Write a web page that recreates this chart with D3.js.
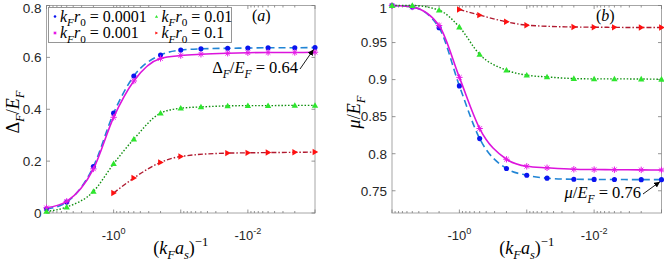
<!DOCTYPE html>
<html>
<head>
<meta charset="utf-8">
<script src="https://cdn.jsdelivr.net/npm/d3@7"></script>
<style>
  body { margin: 0; background: #fff; }
  svg { display: block; }
</style>
</head>
<body>
<svg width="664" height="263"></svg>
<script>
// x values: (k_F a_s)^-1
const xVals = [-10, -5, -2, -1, -0.5, -0.2, -0.1, -0.05, -0.02, -0.01, -0.005, -0.002, -0.001];
const xValsRed = [-1, -0.5, -0.2, -0.1, -0.02, -0.01, -0.005, -0.002, -0.001];

// panel (a): Delta_F / E_F
const gapR0001 = [0.015, 0.042, 0.179, 0.385, 0.528, 0.609, 0.628, 0.633, 0.635, 0.636, 0.637, 0.637, 0.638];
const gapR001 = [0.02, 0.045, 0.17, 0.369, 0.509, 0.596, 0.607, 0.612, 0.616, 0.618, 0.619, 0.619, 0.62];
const gapR01 = [0.006, 0.023, 0.083, 0.19, 0.285, 0.385, 0.404, 0.409, 0.413, 0.414, 0.414, 0.415, 0.415];
const gapR1 = [0.077, 0.135, 0.195, 0.218, 0.231, 0.232, 0.233, 0.234, 0.235];

// panel (b): mu / E_F
const muR0001 = [1.0, 0.998, 0.970, 0.8915, 0.8204, 0.780, 0.771, 0.767, 0.7655, 0.7653, 0.7652, 0.765, 0.765];
const muR001 = [1.0, 0.998, 0.973, 0.903, 0.834, 0.7925, 0.783, 0.781, 0.779, 0.7786, 0.7784, 0.7782, 0.778];
const muR01 = [1.0, 1.0, 0.9937, 0.971, 0.934, 0.9127, 0.906, 0.9036, 0.9014, 0.901, 0.901, 0.9008, 0.9005];
const muR1 = [0.9946, 0.987, 0.978, 0.9734, 0.971, 0.9707, 0.9705, 0.9703, 0.9703];

const legendLabels = ['0.0001', '0.001', '0.01', '0.1'];
const gapTicks = [0, 0.2, 0.4, 0.6, 0.8];
const muTicks = [0.75, 0.8, 0.85, 0.9, 0.95, 1];
const xLabelTicks = [1, 0.01];

const svg = d3.select('svg');
svg.append('rect').attr('width', 664).attr('height', 263).attr('fill', '#fff');

const serif = '"Liberation Serif", "DejaVu Serif", serif';
const sans = '"Liberation Sans", Arial, sans-serif';

// series styles
const styles = [
	{ line: '#2185d5', dash: '7,4', width: 1.6, marker: 'dot', mcolor: '#0a14f0' },
	{ line: '#dc14dc', dash: null, width: 1.6, marker: 'star', mcolor: '#e619e6' },
	{ line: '#0f8f0f', dash: '1.5,1.8', width: 1.4, marker: 'tri', mcolor: '#2ee62e' },
	{ line: '#b01a30', dash: '5,2,1.5,2', width: 1.4, marker: 'right', mcolor: '#ff1010' }
];

svg.append('defs').append('marker')
	.attr('id', 'arrowHead')
	.attr('orient', 'auto')
	.attr('markerWidth', 8).attr('markerHeight', 8)
	.attr('refX', 6).attr('refY', 3)
	.attr('markerUnits', 'userSpaceOnUse')
	.append('path').attr('d', 'M0,0 L6,3 L0,6 Z').attr('fill', '#000');

// writes math-like text; parts: [text, kind] kind: r roman, i italic, sub, isub, sup
function mathText(g, parts, size) {
	let shift = 0;
	parts.forEach((p) => {
		const t = g.append('tspan').text(p[0]);
		let target = 0;
		let fs = size;
		let italic = false;
		if (p[1] === 'i') italic = true;
		if (p[1] === 'sub' || p[1] === 'isub') { target = size * 0.3; fs = size * 0.7; italic = p[1] === 'isub'; }
		if (p[1] === 'sup' || p[1] === 'isup') { target = -size * 0.42; fs = size * 0.7; italic = p[1] === 'isup'; }
		t.attr('dy', target - shift).attr('font-size', fs).attr('font-style', italic ? 'italic' : 'normal');
		shift = target;
	});
}

function drawMarker(g, kind, color, size) {
	if (kind === 'dot') {
		g.append('circle').attr('r', size * 0.8).attr('fill', color);
	} else if (kind === 'star') {
		const s = size;
		g.append('path')
			.attr('d', `M${-s},0 H${s} M0,${-s} V${s} M${-s * 0.7},${-s * 0.7} L${s * 0.7},${s * 0.7} M${-s * 0.7},${s * 0.7} L${s * 0.7},${-s * 0.7}`)
			.attr('stroke', color).attr('stroke-width', 1).attr('fill', 'none');
	} else if (kind === 'tri') {
		const s = size;
		g.append('path').attr('d', `M0,${-s} L${s},${s * 0.75} L${-s},${s * 0.75} Z`).attr('fill', color);
	} else {
		const s = size;
		g.append('path').attr('d', `M${s},0 L${-s * 0.75},${-s} L${-s * 0.75},${s} Z`).attr('fill', color);
	}
}

function panel(opts) {
	const x = d3.scaleLog().domain([10, 0.001]).range([opts.x0, opts.x1]);
	const y = d3.scaleLinear().domain(opts.ydom).range([213, 5.5]);
	const g = svg.append('g');

	// frame
	g.append('rect')
		.attr('x', opts.x0).attr('y', 5.5)
		.attr('width', opts.x1 - opts.x0).attr('height', 213 - 5.5)
		.attr('fill', 'none').attr('stroke', '#a6a6a6').attr('stroke-width', 1);

	// x ticks (log minor + major), inside, top and bottom
	x.ticks().forEach((t) => {
		const major = Math.abs(Math.log10(t) - Math.round(Math.log10(t))) < 1e-9;
		const len = major ? 3.5 : 2;
		const px = x(t);
		g.append('line').attr('x1', px).attr('x2', px).attr('y1', 213).attr('y2', 213 - len)
			.attr('stroke', '#7a7a7a').attr('stroke-width', 0.8);
		g.append('line').attr('x1', px).attr('x2', px).attr('y1', 5.5).attr('y2', 5.5 + len)
			.attr('stroke', '#7a7a7a').attr('stroke-width', 0.8);
	});
	xLabelTicks.forEach((t) => {
		const txt = g.append('text')
			.attr('x', x(t)).attr('y', 239.5)
			.attr('text-anchor', 'middle')
			.attr('font-family', sans).attr('font-size', 13).attr('fill', '#262626');
		mathText(txt, [['-10', 'r'], [String(Math.round(Math.log10(t))), 'sup']], 13);
	});

	// y ticks
	opts.yticks.forEach((t) => {
		const py = y(t);
		g.append('line').attr('x1', opts.x0).attr('x2', opts.x0 + 3.5).attr('y1', py).attr('y2', py)
			.attr('stroke', '#7a7a7a').attr('stroke-width', 0.8);
		g.append('line').attr('x1', opts.x1).attr('x2', opts.x1 - 3.5).attr('y1', py).attr('y2', py)
			.attr('stroke', '#7a7a7a').attr('stroke-width', 0.8);
		g.append('text')
			.attr('x', opts.x0 - 5).attr('y', Math.max(py + 4.8, 12.6))
			.attr('text-anchor', 'end')
			.attr('font-family', sans).attr('font-size', 13.5).attr('fill', '#262626')
			.text(opts.fmt(t));
	});

	// series
	const line = d3.line().x((d) => x(-d[0])).y((d) => y(d[1])).curve(d3.curveMonotoneX);
	opts.series.forEach((s, i) => {
		const st = styles[i];
		const pts = s.xs.map((v, j) => [v, s.ys[j]]);
		g.append('path')
			.attr('d', line(pts))
			.attr('fill', 'none')
			.attr('stroke', st.line)
			.attr('stroke-width', st.width)
			.attr('stroke-dasharray', st.dash);
		pts.forEach((p) => {
			const m = g.append('g').attr('transform', `translate(${x(-p[0])},${y(p[1])})`);
			drawMarker(m, st.marker, st.mcolor, 3.2);
		});
	});

	// panel tag
	const tag = g.append('text')
		.attr('x', opts.tagX).attr('y', 21)
		.attr('font-family', serif).attr('font-size', 16).attr('fill', '#000');
	mathText(tag, [['(', 'r'], [opts.tag, 'i'], [')', 'r']], 16);

	// x label
	const xl = g.append('text')
		.attr('x', (opts.x0 + opts.x1) / 2).attr('y', 254)
		.attr('text-anchor', 'middle')
		.attr('font-family', serif).attr('font-size', 18).attr('fill', '#000');
	mathText(xl, [['(', 'r'], ['k', 'i'], ['F', 'isub'], ['a', 'i'], ['s', 'isub'], [')', 'r'], ['−1', 'sup']], 18);

	// y label
	const yl = g.append('text')
		.attr('transform', `translate(${opts.ylabX},112) rotate(-90)`)
		.attr('text-anchor', 'middle')
		.attr('font-family', serif).attr('font-size', 18).attr('fill', '#000');
	mathText(yl, opts.ylab, 18);

	// annotation
	const an = opts.annot;
	const at = g.append('text')
		.attr('x', an.tx).attr('y', an.ty)
		.attr('text-anchor', 'end')
		.attr('font-family', serif).attr('font-size', 16.5).attr('fill', '#000');
	mathText(at, an.parts, 16.5);
	const last = opts.series[0];
	const lx = x(-last.xs[last.xs.length - 1]);
	const ly = y(last.ys[last.ys.length - 1]);
	g.append('line')
		.attr('x1', an.tx + 2).attr('y1', an.ty - 4)
		.attr('x2', lx - 1.5).attr('y2', ly + 2)
		.attr('stroke', '#000').attr('stroke-width', 0.9)
		.attr('marker-end', 'url(#arrowHead)');

	return { x, y };
}

panel({
	x0: 46.5, x1: 315,
	ydom: [0, 0.8], yticks: gapTicks, fmt: (t) => (t === 0 ? '0' : d3.format('.1f')(t)),
	series: [
		{ xs: xVals, ys: gapR0001 },
		{ xs: xVals, ys: gapR001 },
		{ xs: xVals, ys: gapR01 },
		{ xs: xValsRed, ys: gapR1 }
	],
	tag: 'a', tagX: 252,
	ylabX: 19,
	ylab: [['Δ', 'r'], ['F', 'isub'], ['/', 'r'], ['E', 'i'], ['F', 'isub']],
	annot: { tx: 298, ty: 73, parts: [['Δ', 'r'], ['F', 'isub'], ['/', 'r'], ['E', 'i'], ['F', 'isub'], [' = 0.64', 'r']] }
});

panel({
	x0: 392, x1: 661.5,
	ydom: [0.72, 1], yticks: muTicks, fmt: (t) => (t === 1 ? '1' : String(t)),
	series: [
		{ xs: xVals, ys: muR0001 },
		{ xs: xVals, ys: muR001 },
		{ xs: xVals, ys: muR01 },
		{ xs: xValsRed, ys: muR1 }
	],
	tag: 'b', tagX: 596,
	ylabX: 360,
	ylab: [['μ', 'i'], ['/', 'r'], ['E', 'i'], ['F', 'isub']],
	annot: { tx: 641, ty: 198, parts: [['μ', 'i'], ['/', 'r'], ['E', 'i'], ['F', 'isub'], [' = 0.76', 'r']] }
});

// legend
const leg = svg.append('g');
leg.append('rect').attr('x', 48.5).attr('y', 7.5).attr('width', 183).attr('height', 35)
	.attr('fill', '#fff').attr('stroke', '#8c8c8c').attr('stroke-width', 0.9);
legendLabels.forEach((lab, i) => {
	const col = Math.floor(i / 2);
	const row = i % 2;
	const mx = 55 + col * 101.5;
	const my = 16.5 + row * 16.5;
	const m = leg.append('g').attr('transform', `translate(${mx},${my})`);
	drawMarker(m, styles[i].marker, styles[i].mcolor, 1.6);
	const t = leg.append('text')
		.attr('x', mx + 5).attr('y', my + 5)
		.attr('font-family', serif).attr('font-size', 16).attr('fill', '#000');
	mathText(t, [['k', 'i'], ['F', 'isub'], ['r', 'i'], ['0', 'sub'], [' = ' + lab, 'r']], 16);
});
</script>
</body>
</html>
